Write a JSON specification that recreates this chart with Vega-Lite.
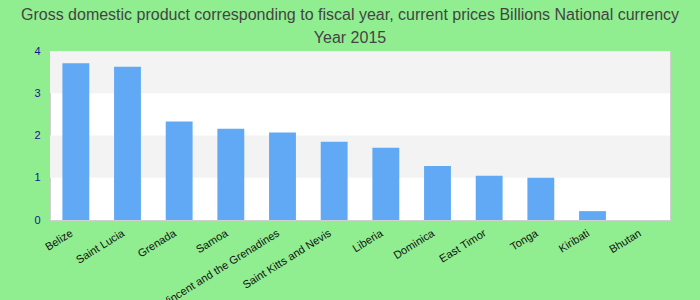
{
  "$schema": "https://vega.github.io/schema/vega-lite/v6.json",
  "autosize": {"type": "none"},
  "width": 620,
  "height": 169,
  "padding": {"left": 50, "top": 51, "right": 30, "bottom": 80},
  "background": "#90ee90",
  "title": {
    "text": ["Gross domestic product corresponding to fiscal year, current prices Billions National currency", "Year 2015"],
    "font": "Liberation Sans",
    "fontSize": 16,
    "fontWeight": "normal",
    "color": "#444444",
    "lineHeight": 23,
    "anchor": "middle",
    "frame": "group",
    "dx": -10,
    "dy": 2,
    "offset": 1
  },
  "config": {
    "view": {"stroke": "#d0d0d0", "strokeWidth": 1, "fill": "white"},
    "axis": {"labelFont": "Liberation Sans"}
  },
  "datasets": {
    "gdp": [
      {"country": "Belize", "value": 3.71},
      {"country": "Saint Lucia", "value": 3.63},
      {"country": "Grenada", "value": 2.33},
      {"country": "Samoa", "value": 2.16},
      {"country": "Saint Vincent and the Grenadines", "value": 2.07},
      {"country": "Saint Kitts and Nevis", "value": 1.85},
      {"country": "Liberia", "value": 1.71},
      {"country": "Dominica", "value": 1.28},
      {"country": "East Timor", "value": 1.05},
      {"country": "Tonga", "value": 1.0},
      {"country": "Kiribati", "value": 0.21},
      {"country": "Bhutan", "value": 0}
    ],
    "bands": [
      {"lo": 1, "hi": 2},
      {"lo": 3, "hi": 4}
    ]
  },
  "layer": [
    {
      "data": {"name": "bands"},
      "mark": {"type": "rect", "fill": "#f3f3f3"},
      "encoding": {
        "y": {"field": "lo", "type": "quantitative", "scale": {"domain": [0, 4]}},
        "y2": {"field": "hi"}
      }
    },
    {
      "data": {"name": "gdp"},
      "mark": {"type": "bar", "color": "#61a9f4"},
      "encoding": {
        "x": {
          "field": "country",
          "type": "nominal",
          "sort": null,
          "scale": {"paddingInner": 0.48, "paddingOuter": 0.24},
          "axis": {
            "title": null,
            "labelAngle": -32,
            "labelColor": "#111111",
            "labelFontSize": 11,
            "labelPadding": 7,
            "labelOffset": -7,
            "ticks": false,
            "domain": false,
            "labelOverlap": false,
            "labelLimit": 0
          }
        },
        "y": {
          "field": "value",
          "type": "quantitative",
          "scale": {"domain": [0, 4]},
          "axis": {
            "title": null,
            "values": [0, 1, 2, 3, 4],
            "grid": false,
            "ticks": false,
            "domain": false,
            "labelColor": "#14148c",
            "labelFontSize": 11,
            "labelPadding": 10
          }
        }
      }
    }
  ]
}
